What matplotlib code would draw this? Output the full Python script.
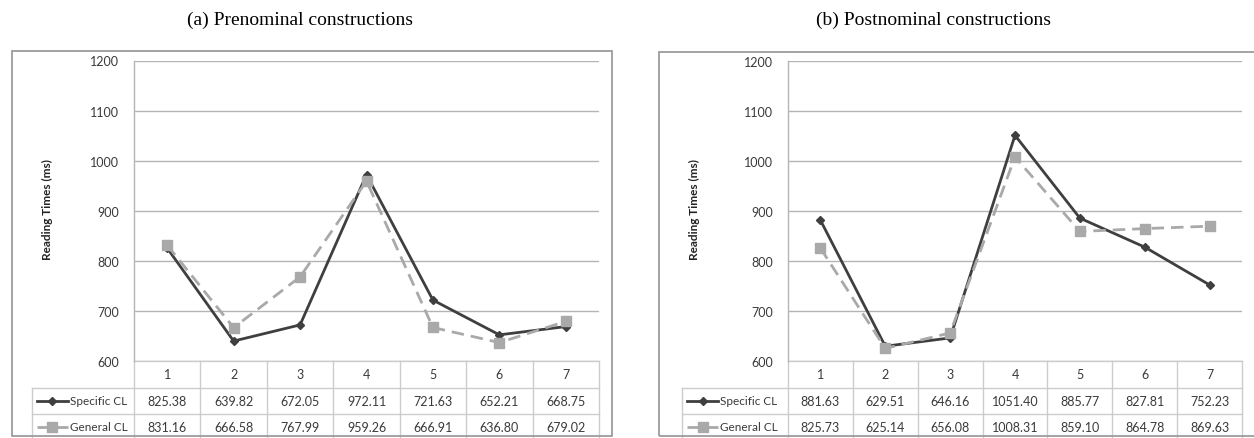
import matplotlib
matplotlib.use("Agg")
import matplotlib.pyplot as plt
import matplotlib.transforms as mtransforms
from matplotlib.patches import Rectangle
from matplotlib.lines import Line2D

W, H = 1254, 439

positions = [1, 2, 3, 4, 5, 6, 7]
series_names = ["Specific CL", "General CL"]

pre_specific = [825.38, 639.82, 672.05, 972.11, 721.63, 652.21, 668.75]
pre_general = [831.16, 666.58, 767.99, 959.26, 666.91, 636.80, 679.02]
post_specific = [881.63, 629.51, 646.16, 1051.40, 885.77, 827.81, 752.23]
post_general = [825.73, 625.14, 656.08, 1008.31, 859.10, 864.78, 869.63]

titles = ["(a) Prenominal constructions", "(b) Postnominal constructions"]
y_ticks = [600, 700, 800, 900, 1000, 1100, 1200]
y_label = "Reading Times (ms)"

SPEC_COLOR = "#3f3f3f"
GEN_COLOR = "#a9a9a9"
GRID_COLOR = "#b4b4b4"
TABLE_COLOR = "#cccccc"
TEXT_COLOR = "#3a3a3a"
UI_FONT = "Lato"

styles = [
    dict(color=SPEC_COLOR, linestyle="-", linewidth=2.0, marker="D", markersize=4.5),
    dict(color=GEN_COLOR, linestyle=(0, (4.5, 2.5)), linewidth=2.0, marker="s", markersize=7.5),
]


def fx(x):
    return x / W


def fy(y):
    return 1 - y / H


fig = plt.figure(figsize=(W / 100, H / 100), dpi=100)
fig.patch.set_facecolor("white")


def draw_panel(title, specific, general, box, border, table_left, title_x, ylabel_x):
    x0, y0, x1, y1 = box
    ax = fig.add_axes([fx(x0), fy(y1), fx(x1) - fx(x0), fy(y0) - fy(y1)])
    ax_w = x1 - x0
    ax_h = y1 - y0

    # panel frame and title
    bx0, by0, bx1, by1 = border
    fig.patches.append(Rectangle((fx(bx0), fy(by1)), fx(bx1) - fx(bx0), fy(by0) - fy(by1),
                                 transform=fig.transFigure, fill=False,
                                 edgecolor="#9c9c9c", linewidth=1.3))
    fig.text(fx(title_x), fy(20), title, ha="center", va="center",
             fontsize=14, family="Liberation Serif", color="black")
    fig.text(fx(ylabel_x), fy(210), y_label, rotation=90, ha="center", va="center",
             fontsize=8.5, fontweight="bold", family=UI_FONT, color="#222222")

    for vals, name, st in zip([specific, general], series_names, styles):
        ax.plot(positions, vals, label=name, zorder=3, clip_on=False,
                markeredgecolor=st["color"], markerfacecolor=st["color"], **st)

    ax.set_xlim(0.5, 7.5)
    ax.set_ylim(600, 1200)
    ax.set_yticks(y_ticks)
    ax.set_xticks([])
    ax.tick_params(axis="y", length=0, pad=11, labelsize=9, labelcolor=TEXT_COLOR)
    for lab in ax.get_yticklabels():
        lab.set_family(UI_FONT)
    ax.grid(axis="y", color=GRID_COLOR, linewidth=1.0)
    ax.set_axisbelow(True)
    for side in ["top", "right", "bottom"]:
        ax.spines[side].set_visible(False)
    ax.spines["left"].set_color(GRID_COLOR)
    ax.spines["left"].set_linewidth(1.0)

    # data table under the plot
    row_h = 26.0 / ax_h
    rows = [0, -27.0 / ax_h, -27.0 / ax_h - row_h, -27.0 / ax_h - 2 * row_h]
    left_frac = (table_left - x0) / ax_w
    blend = mtransforms.blended_transform_factory(ax.transData, ax.transAxes)
    lk = dict(color=TABLE_COLOR, linewidth=1.0, clip_on=False, zorder=1)

    # left spine continues down the table
    ax.add_line(Line2D([0, 0], [0, rows[3]], transform=ax.transAxes, **lk))
    # horizontal rules
    ax.add_line(Line2D([0, 1], [rows[0], rows[0]], transform=ax.transAxes, **lk))
    for r in rows[1:3]:
        ax.add_line(Line2D([left_frac, 1], [r, r], transform=ax.transAxes, **lk))
    ax.add_line(Line2D([left_frac, left_frac], [rows[1], rows[3]], transform=ax.transAxes, **lk))
    # column separators
    for p in positions:
        ax.add_line(Line2D([p + 0.5, p + 0.5], [rows[0], rows[3]], transform=blend, **lk))

    for p in positions:
        ax.text(p, (rows[0] + rows[1]) / 2, str(p), transform=blend, ha="center", va="center",
                fontsize=9, family=UI_FONT, color=TEXT_COLOR)
    for i, vals in enumerate([specific, general]):
        yc = (rows[i + 1] + rows[i + 2]) / 2
        for p, v in zip(positions, vals):
            ax.text(p, yc, f"{v:.2f}", transform=blend, ha="center", va="center",
                    fontsize=9, family=UI_FONT, color=TEXT_COLOR)
        st = styles[i]
        kx0 = left_frac + 5.0 / ax_w
        kx1 = left_frac + 36.0 / ax_w
        ax.add_line(Line2D([kx0, kx1], [yc, yc], transform=ax.transAxes, clip_on=False,
                           color=st["color"], linestyle=st["linestyle"], linewidth=st["linewidth"]))
        ax.add_line(Line2D([(kx0 + kx1) / 2], [yc], transform=ax.transAxes, clip_on=False,
                           color=st["color"], marker=st["marker"], markersize=st["markersize"],
                           linestyle="none"))
        ax.text(left_frac + 38.0 / ax_w, yc, series_names[i], transform=ax.transAxes,
                ha="left", va="center", fontsize=8.5, family=UI_FONT, color=TEXT_COLOR)
    return ax


draw_panel(titles[0], pre_specific, pre_general,
           box=(134, 61.5, 599, 362), border=(12, 52, 612, 437),
           table_left=32, title_x=300, ylabel_x=47)
draw_panel(titles[1], post_specific, post_general,
           box=(788, 62, 1242, 362), border=(659, 53, 1262, 437),
           table_left=682, title_x=934, ylabel_x=694)

fig.savefig("out.png", dpi=100, facecolor="white")
